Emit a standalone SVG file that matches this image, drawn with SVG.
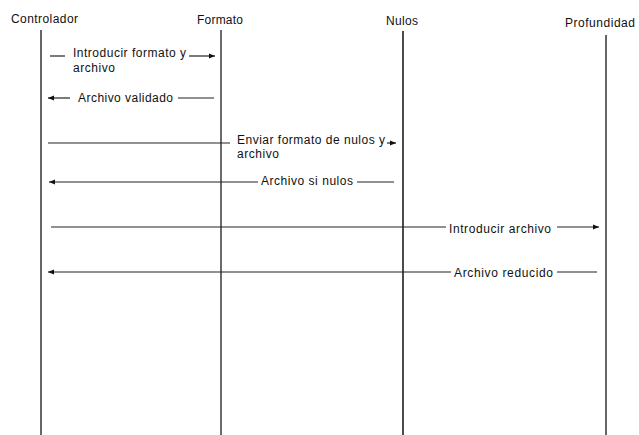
<svg xmlns="http://www.w3.org/2000/svg" width="639" height="435" viewBox="0 0 639 435">
<style>
text{font-family:"Liberation Sans",Arial,sans-serif;font-size:12px;fill:#111}
.life{stroke:#333;stroke-width:1.5;fill:none}
.msg{stroke:#222;stroke-width:1.2;fill:none}
</style>
<defs>
<marker id="ah" viewBox="0 0 6 6" refX="6" refY="3" markerWidth="6" markerHeight="6" markerUnits="userSpaceOnUse" orient="auto">
<path d="M0,0.5 L6,3 L0,5.5 Z" fill="#111"/>
</marker>
</defs>
<rect width="639" height="435" fill="#fff"/>
<g id="controlador">
<text x="11" y="22.5" textLength="67" lengthAdjust="spacing">Controlador</text>
<line class="life" x1="41" y1="30" x2="41" y2="435"/>
</g>
<g id="formato">
<text x="197" y="24" textLength="46" lengthAdjust="spacing">Formato</text>
<line class="life" x1="221" y1="30" x2="221" y2="435" style="stroke:#5a5a5a;stroke-width:1.8"/>
</g>
<g id="nulos">
<text x="386" y="25.3" textLength="32" lengthAdjust="spacing">Nulos</text>
<line class="life" x1="403" y1="31" x2="403" y2="435" style="stroke:#111"/>
</g>
<g id="profundidad">
<text x="565" y="27.3" textLength="70" lengthAdjust="spacing">Profundidad</text>
<line class="life" x1="606" y1="35" x2="606" y2="435"/>
</g>
<g id="connectors">
<line class="msg" x1="50" y1="56" x2="65" y2="56"/>
<line class="msg" x1="189" y1="56" x2="215" y2="56" marker-end="url(#ah)"/>
<text x="73" y="57" textLength="113" lengthAdjust="spacing">Introducir formato y</text>
<text x="73" y="72" textLength="42" lengthAdjust="spacing">archivo</text>

<line class="msg" x1="70" y1="98" x2="48" y2="98" marker-end="url(#ah)"/>
<line class="msg" x1="178" y1="98" x2="214" y2="98"/>
<text x="78" y="101.7" textLength="95" lengthAdjust="spacing">Archivo validado</text>

<line class="msg" x1="48" y1="143" x2="230" y2="143"/>
<line class="msg" x1="387" y1="143" x2="396" y2="143" marker-end="url(#ah)"/>
<text x="237" y="143.5" textLength="148" lengthAdjust="spacing">Enviar formato de nulos y</text>
<text x="237" y="158" textLength="42" lengthAdjust="spacing">archivo</text>

<line class="msg" x1="258" y1="182" x2="49" y2="182" marker-end="url(#ah)"/>
<line class="msg" x1="357" y1="182" x2="394" y2="182"/>
<text x="261" y="185" textLength="92" lengthAdjust="spacing">Archivo si nulos</text>

<line class="msg" x1="51" y1="227" x2="446" y2="227"/>
<line class="msg" x1="557" y1="227" x2="599" y2="227" marker-end="url(#ah)"/>
<text x="449" y="232.5" textLength="102" lengthAdjust="spacing">Introducir archivo</text>

<line class="msg" x1="451" y1="272" x2="48" y2="272" marker-end="url(#ah)"/>
<line class="msg" x1="557" y1="272" x2="597" y2="272"/>
<text x="454" y="277" textLength="99" lengthAdjust="spacing">Archivo reducido</text>
</g>
</svg>
